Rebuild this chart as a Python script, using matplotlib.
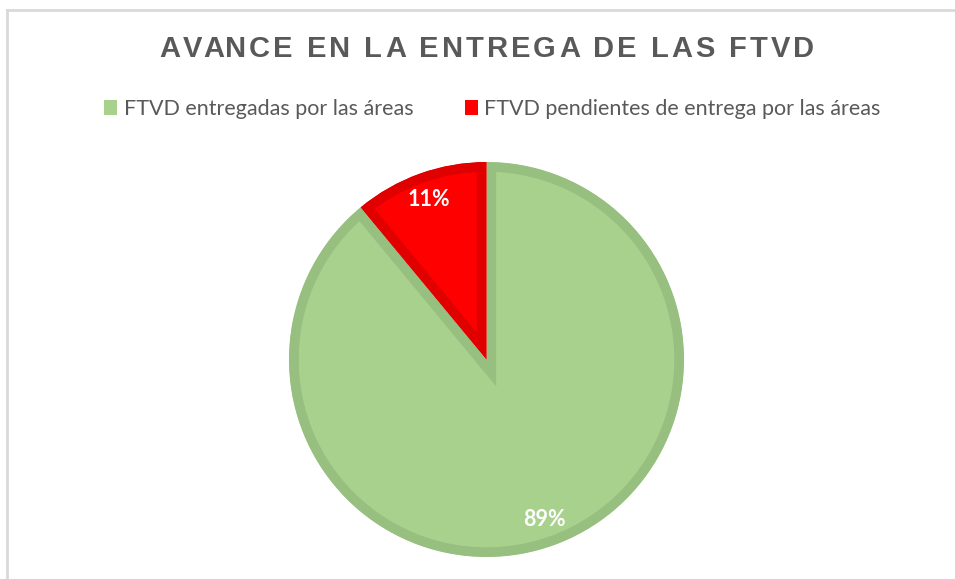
# Pie chart: avance en la entrega de las FTVD
import matplotlib
matplotlib.use("Agg")
import matplotlib.pyplot as plt
from matplotlib.patches import Patch
from matplotlib.lines import Line2D
from matplotlib.font_manager import FontProperties
from matplotlib.textpath import text_to_path

labels = ["FTVD entregadas por las áreas", "FTVD pendientes de entrega por las áreas"]
values = [89, 11]
fills = ["#A9D18E", "#FF0000"]
edges = ["#97BF80", "#E00000"]
title = "AVANCE EN LA ENTREGA DE LAS FTVD"

W, H = 955, 579
fig = plt.figure(figsize=(W / 100, H / 100), dpi=100)
fig.patch.set_facecolor("white")

# chart frame (only top and left edges are visible in the crop)
fig.add_artist(Line2D([7 / W, 7 / W], [0, 1 - 10 / H], transform=fig.transFigure, color="#D9D9D9", lw=2))
fig.add_artist(Line2D([7 / W, 1], [1 - 10 / H, 1 - 10 / H], transform=fig.transFigure, color="#D9D9D9", lw=2))

# pie axes, square in pixels
cx, cy, r = 486.5, 359.5, 197.5
ax = fig.add_axes([(cx - r) / W, (H - cy - r) / H, 2 * r / W, 2 * r / H])
wedges, texts, autotexts = ax.pie(values, colors=fills, startangle=90, counterclock=False,
                                  radius=1, autopct="%.0f%%", pctdistance=0.86,
                                  wedgeprops=dict(linewidth=14),
                                  textprops=dict(color="white", fontsize=15.5, fontweight="bold",
                                                 family="Lato"))
for w, ec in zip(wedges, edges):
    w.set_edgecolor(ec)
    w.set_clip_on(True)
    w.set_clip_path(w)  # keep the border inside each slice
ax.set_xlim(-1, 1)
ax.set_ylim(-1, 1)
ax.axis("off")

# title with extra letter spacing, drawn char by char
tprop = FontProperties(family="Liberation Sans", weight="bold", size=21)
px = 100 / 72
spacing = 3.0
full_w = text_to_path.get_text_width_height_descent(title, tprop, ismath=False)[0] * px
total = full_w + spacing * (len(title) - 1)
x0 = cx - total / 2
for i, ch in enumerate(title):
    pre = text_to_path.get_text_width_height_descent(title[:i], tprop, ismath=False)[0] * px if i else 0
    fig.text((x0 + pre + i * spacing) / W, 1 - 49 / H, ch, ha="left", va="center",
             fontproperties=tprop, color="#595959")

handles = [Patch(facecolor=c, edgecolor="none") for c in fills]
fig.legend(handles, labels, loc="center", bbox_to_anchor=(492.5 / W, 1 - 109 / H), ncol=2,
           frameon=False, labelcolor="#595959", handlelength=0.6, handleheight=0.65,
           handletextpad=0.3, columnspacing=2.4, prop=dict(family="Lato", size=15.5))

fig.savefig("out.png", dpi=100, facecolor="white")
